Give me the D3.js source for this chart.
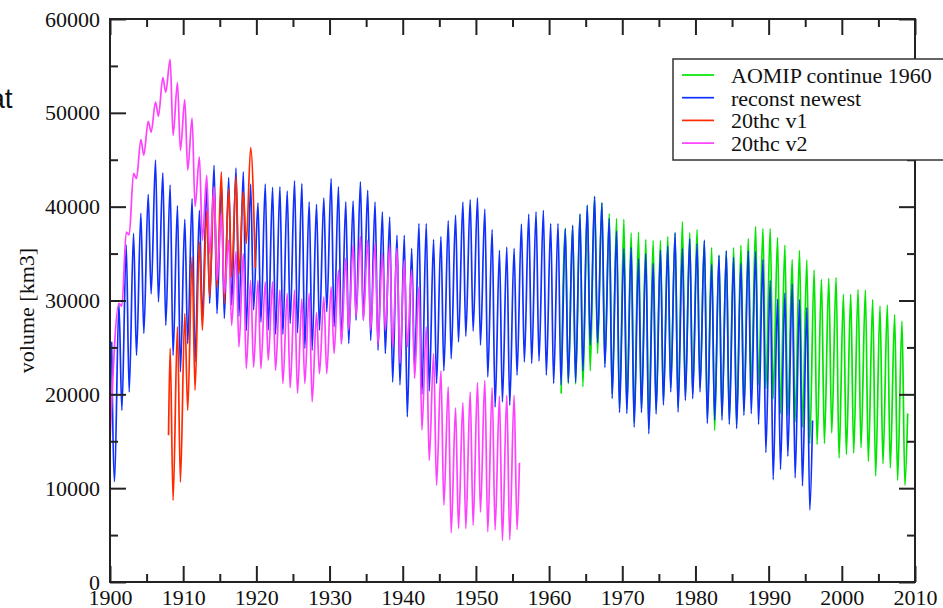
<!DOCTYPE html>
<html>
<head>
<meta charset="utf-8">
<script src="https://cdn.jsdelivr.net/npm/d3@7"></script>
<style>
  body { margin: 0; background: #fff; }
  svg { display: block; }
  text { font-family: "Liberation Serif", "Times New Roman", serif; fill: #111; }
</style>
</head>
<body>
<svg id="chart" width="943" height="608"></svg>
<script>
// annual maxima (spring) and minima (autumn), km3

const blueStartYear = 1900;
const bluePeaks = [
  25600, 29700, 35900, 37150, 39300, 41300, 44950, 43600, 42300, 40100,
  38650, 40850, 39600, 42100, 44400, 42500, 43100, 44100, 43700, 42400,
  40400, 42400, 42050, 42100, 41650, 42750, 42450, 40500, 40250, 40950,
  43000, 42100, 40500, 40600, 42650, 41750, 40500, 39450, 38900, 36950,
  36950, 35550, 38200, 38200, 36500, 36800, 38500, 39100, 40500, 40750,
  40950, 39750, 37550, 35350, 35700, 35550, 38150, 39200, 39450, 39600,
  38200, 38200, 37650, 38000, 39200, 40150, 41100, 40400, 38750, 37400,
  35550, 35650, 34450, 35000, 33950, 35350, 35800, 37200, 35550, 36600,
  36050, 36400, 33850, 34800, 35300, 34600, 33950, 35300, 35200, 34350,
  32150, 30150, 30800, 31750, 30100, 29250
];
const blueTroughs = [
  10700, 18300, 20250, 24150, 26500, 30700, 29850, 27350, 24150, 22400,
  25400, 23450, 28000, 29700, 28600, 28100, 29500, 28300, 26800, 29000,
  27700, 26850, 26400, 26400, 27550, 26550, 24900, 24700, 26850, 28800,
  27200, 25400, 25400, 27900, 27900, 25750, 24700, 24350, 21300, 21000,
  17600, 22900, 20000, 20350, 21150, 22500, 23800, 25600, 26200, 26750,
  25250, 21850, 18650, 19200, 18850, 22050, 23450, 23300, 23550, 22050,
  21150, 21000, 21250, 21300, 22500, 25250, 25500, 22850, 19550, 18050,
  17950, 16500, 18050, 15800, 17900, 18850, 20250, 18100, 19350, 19550,
  20250, 16900, 17250, 17250, 16800, 16350, 17750, 17950, 16800, 13800,
  10900, 12000, 13400, 11100, 10250, 7650
];
const blueTail = [1996.0, 17200];

const greenStartYear = 1962;
const greenHead = [1961.65, 20100];
const greenPeaks = [
  37700, 38000, 39200, 40150, 41100, 40400, 39250, 38750, 38650, 37200,
  37300, 36500, 36400, 36400, 36800, 37200, 38400, 37200, 37550, 36400,
  35650, 34800, 35300, 35650, 35900, 36600, 37900, 37650, 37650, 36700,
  35900, 34350, 35350, 34300, 33250, 32250, 32350, 32450, 30650, 30650,
  31150, 31100, 30100, 29400, 29500, 28500, 27800
];
const greenTroughs = [
  21150, 21100, 20800, 22500, 24350, 23300, 20000, 18500, 18400, 17000,
  18500, 16300, 18300, 19300, 20700, 18600, 19800, 20000, 20700, 17400,
  16150, 17700, 17300, 16800, 18200, 20800, 21000, 20600, 19550, 17950,
  17750, 17050, 16500, 14750, 14650, 14750, 15900, 13200, 13600, 13750,
  14300, 12850, 11300, 12600, 12150, 10850, 10300
];
const greenTail = [2009.0, 17950];

const redStartYear = 1908;
const redHead = [1908.0, 15650];
const redPeaks = [24900, 27200, 28600, 34650, 36250, 39550, 42100, 43700, 41950, 43200, 41600, 46300];
const redTroughs = [8700, 10650, 18300, 20450, 26850, 30400, 31450, 29700, 32500, 32850, 36050];
const redTail = [1919.85, 33500];

const magentaStartYear = 1901;
const magentaHead = [1900.0, 15000];
const magentaPeaks = [
  29700, 37300, 43550, 47150, 49100, 51150, 53750, 55700, 53250, 51400,
  49450, 45300, 43350, 42100, 39300, 36400, 35200, 35000, 32150, 32150,
  32000, 32000, 31150, 30750, 31100, 30200, 30750, 28700, 30400, 31450,
  33250, 34500, 35900, 36800, 36400, 36050, 35000, 35900, 35550, 34300,
  33250, 31450, 27200, 24350, 22500, 20800, 18550, 19100, 20250, 21250,
  21500, 20700, 19800, 19900, 19900
];
const magentaTroughs = [
  29400, 37000, 43000, 45500, 47950, 49650, 52200, 47600, 46000, 43900,
  40000, 36400, 35000, 32150, 30750, 27350, 25050, 22750, 22900, 22750,
  23650, 22550, 21150, 20700, 20100, 21150, 19200, 22200, 22200, 24350,
  25400, 26850, 28250, 27900, 26850, 25250, 26850, 25050, 23300, 25050,
  21700, 16200, 12950, 10300, 8200, 5250, 5700, 5700, 6050, 7450,
  5350, 5550, 4400, 4500, 5600
];
const magentaTail = [1955.95, 12700];

const legendLabels = ["AOMIP continue 1960", "reconst newest", "20thc v1", "20thc v2"];
const xMajor = d3.range(1900, 2011, 10);
const xMinor = d3.range(1905, 2010, 10);
const yMajor = d3.range(0, 60001, 10000);
const yMinor = d3.range(5000, 60000, 10000);

// seasonal phase of max / min inside a year
const PEAK_PHASE = 0.22;
const TROUGH_PHASE = 0.62;

function cycle(startYear, peaks, troughs, head, tail) {
  const pts = [];
  if (head) pts.push(head);
  peaks.forEach((p, i) => {
    pts.push([startYear + i + PEAK_PHASE, p]);
    if (troughs[i] !== undefined) pts.push([startYear + i + TROUGH_PHASE, troughs[i]]);
  });
  if (tail) pts.push(tail);
  return pts;
}

const series = [
  { name: legendLabels[0], color: "#00e600", pts: cycle(greenStartYear, greenPeaks, greenTroughs, greenHead, greenTail) },
  { name: legendLabels[1], color: "#1030ff", pts: cycle(blueStartYear, bluePeaks, blueTroughs, null, blueTail) },
  { name: legendLabels[2], color: "#ff2a00", pts: cycle(redStartYear, redPeaks, redTroughs, redHead, redTail) },
  { name: legendLabels[3], color: "#ff40ff", pts: cycle(magentaStartYear, magentaPeaks, magentaTroughs, magentaHead, magentaTail) }
];

const plotLeft = 110, plotRight = 915, plotTop = 19, plotBottom = 582;

const x = d3.scaleLinear().domain([1900, 2010]).range([plotLeft, plotRight]);
const y = d3.scaleLinear().domain([0, 60000]).range([plotBottom, plotTop]);

const svg = d3.select("#chart");

// cut-off title fragment at the left edge
svg.append("text")
  .attr("x", 12.5)
  .attr("y", 108)
  .attr("text-anchor", "end")
  .style("font-family", "'Liberation Sans', Arial, sans-serif")
  .style("font-size", "28px")
  .text("at");

// data
const line = d3.line()
  .x(d => x(d[0]))
  .y(d => y(d[1]))
  .curve(d3.curveMonotoneX);

svg.append("g")
  .selectAll("path")
  .data(series)
  .join("path")
  .attr("d", d => line(d.pts))
  .attr("fill", "none")
  .attr("stroke", d => d.color)
  .attr("stroke-width", 1.7)
  .attr("stroke-linejoin", "round");

// frame and inward ticks on all four sides
function styleAxis(g) {
  g.select(".domain").remove();
  g.selectAll(".tick line").attr("stroke", "#222").attr("stroke-width", 2);
  g.selectAll(".tick text")
    .style("font-family", "'Liberation Serif', 'Times New Roman', serif")
    .style("font-size", "22px")
    .attr("fill", "#111");
}

svg.append("g")
  .attr("transform", `translate(0,${plotBottom})`)
  .call(d3.axisBottom(x).tickValues(xMajor).tickFormat(d3.format("d")).tickSize(-16).tickPadding(7))
  .call(styleAxis);
svg.append("g")
  .attr("transform", `translate(0,${plotBottom})`)
  .call(d3.axisBottom(x).tickValues(xMinor).tickFormat("").tickSize(-8))
  .call(styleAxis);
svg.append("g")
  .attr("transform", `translate(0,${plotTop})`)
  .call(d3.axisTop(x).tickValues(xMajor).tickFormat("").tickSize(-16))
  .call(styleAxis);
svg.append("g")
  .attr("transform", `translate(0,${plotTop})`)
  .call(d3.axisTop(x).tickValues(xMinor).tickFormat("").tickSize(-8))
  .call(styleAxis);

svg.append("g")
  .attr("transform", `translate(${plotLeft},0)`)
  .call(d3.axisLeft(y).tickValues(yMajor).tickFormat(d3.format("d")).tickSize(-16).tickPadding(10))
  .call(styleAxis);
svg.append("g")
  .attr("transform", `translate(${plotLeft},0)`)
  .call(d3.axisLeft(y).tickValues(yMinor).tickFormat("").tickSize(-8))
  .call(styleAxis);
svg.append("g")
  .attr("transform", `translate(${plotRight},0)`)
  .call(d3.axisRight(y).tickValues(yMajor).tickFormat("").tickSize(-16))
  .call(styleAxis);
svg.append("g")
  .attr("transform", `translate(${plotRight},0)`)
  .call(d3.axisRight(y).tickValues(yMinor).tickFormat("").tickSize(-8))
  .call(styleAxis);

svg.append("rect")
  .attr("x", plotLeft)
  .attr("y", plotTop)
  .attr("width", plotRight - plotLeft)
  .attr("height", plotBottom - plotTop)
  .attr("fill", "none")
  .attr("stroke", "#222")
  .attr("stroke-width", 2);

// y axis title
svg.append("text")
  .attr("transform", `translate(34,${(plotTop + plotBottom) / 2 + 10}) rotate(-90)`)
  .attr("text-anchor", "middle")
  .style("font-size", "22px")
  .text("volume [km3]");

// legend (runs off the right edge, as in the original)
const legend = svg.append("g").attr("transform", "translate(673,59)");
legend.append("rect")
  .attr("width", 300)
  .attr("height", 101)
  .attr("fill", "#fff")
  .attr("stroke", "#333")
  .attr("stroke-width", 1.5);

const rows = legend.selectAll("g.row")
  .data(series)
  .join("g")
  .attr("class", "row")
  .attr("transform", (d, i) => `translate(0,${16 + i * 22.7})`);
rows.append("line")
  .attr("x1", 9)
  .attr("x2", 41)
  .attr("stroke", d => d.color)
  .attr("stroke-width", 1.7);
rows.append("text")
  .attr("x", 58)
  .attr("y", 8)
  .style("font-size", "22px")
  .text(d => d.name);
</script>
</body>
</html>
